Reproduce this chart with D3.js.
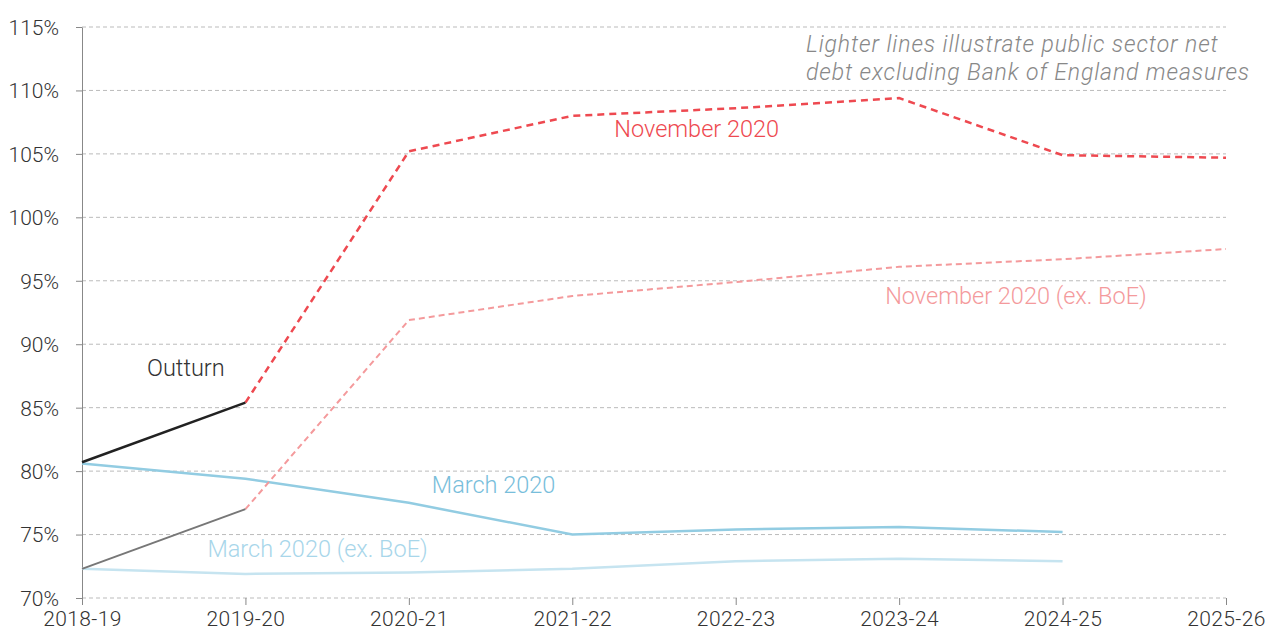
<!DOCTYPE html>
<html lang="en">
<head>
<meta charset="UTF-8">
<title>Public sector net debt</title>
<script src="https://d3js.org/d3.v7.min.js"></script>
<style>
  body { margin: 0; background: #fff; }
  text { font-family: Roboto, "Noto Sans", sans-serif; font-weight: 300; }
</style>
</head>
<body>
<div class="canvas"></div>
<script>
  const years = ['2018-19', '2019-20', '2020-21', '2021-22', '2022-23', '2023-24', '2024-25', '2025-26']
  const yTicks = [70, 75, 80, 85, 90, 95, 100, 105, 110, 115]

  // % of GDP
  const outturn = [80.7, 85.4]
  const outturnExBoe = [72.3, 77.0]
  const nov2020 = [null, 85.4, 105.2, 108.0, 108.6, 109.4, 104.9, 104.7]
  const nov2020ExBoe = [null, 77.0, 91.9, 93.8, 94.9, 96.1, 96.7, 97.5]
  const mar2020 = [80.6, 79.4, 77.5, 75.0, 75.4, 75.6, 75.2]
  const mar2020ExBoe = [72.3, 71.9, 72.0, 72.3, 72.9, 73.1, 72.9]

  const width = 1278, height = 636
  const margin = {top: 27, right: 52, bottom: 38, left: 82}

  const svg = d3.select('.canvas')
    .append('svg')
    .attr('width', width)
    .attr('height', height)

  const x = d3.scalePoint().domain(years).range([margin.left, width - margin.right])
  const y = d3.scaleLinear().domain([70, 115]).range([height - margin.bottom, margin.top])

  // gridlines
  svg.append('g')
    .selectAll('line')
    .data(yTicks)
    .enter()
    .append('line')
    .attr('x1', margin.left)
    .attr('x2', width - margin.right)
    .attr('y1', d => y(d))
    .attr('y2', d => y(d))
    .attr('stroke', '#bbb')
    .attr('stroke-width', 1)
    .attr('stroke-dasharray', '4,3')

  // y axis
  const yAxis = svg.append('g')
    .attr('transform', `translate(${margin.left},0)`)
    .call(d3.axisLeft(y).tickValues(yTicks).tickFormat(d => d + '%').tickSize(6).tickSizeOuter(0))
  yAxis.select('.domain').attr('stroke', '#888')
  yAxis.selectAll('.tick line').attr('stroke', '#888')
  yAxis.selectAll('text')
    .attr('fill', '#333')
    .style('font-size', '21px')
    .attr('x', -23)
    .attr('dy', '0.35em')

  // x axis
  const xAxis = svg.append('g')
    .attr('transform', `translate(0,${height - margin.bottom})`)
    .call(d3.axisBottom(x).tickSize(7).tickSizeOuter(0))
  xAxis.select('.domain').remove()
  xAxis.selectAll('.tick line').attr('stroke', '#888')
  xAxis.selectAll('text')
    .attr('fill', '#333')
    .style('font-size', '21px')
    .style('letter-spacing', '0.4px')
    .attr('y', 13)
    .attr('dy', '0.71em')

  const line = d3.line()
    .defined(d => d != null)
    .x((d, i) => x(years[i]))
    .y(d => y(d))

  const series = [
    {vals: mar2020ExBoe, color: '#c6e4f0', dash: null, w: 2.5},
    {vals: mar2020, color: '#92cce2', dash: null, w: 2.5},
    {vals: nov2020ExBoe, color: '#f49a9c', dash: '6,4', w: 2},
    {vals: outturnExBoe, color: '#777', dash: null, w: 2},
    {vals: nov2020, color: '#ee4950', dash: '7,5', w: 2.5},
    {vals: outturn, color: '#222', dash: null, w: 2.5}
  ]

  svg.append('g')
    .selectAll('path')
    .data(series)
    .enter()
    .append('path')
    .attr('fill', 'none')
    .attr('stroke', d => d.color)
    .attr('stroke-width', d => d.w)
    .attr('stroke-dasharray', d => d.dash)
    .attr('d', d => line(d.vals))

  // labels
  const labels = [
    {text: 'November 2020', color: '#ee4950', x: '2021-22', dx: 42, v: 106.3},
    {text: 'November 2020 (ex. BoE)', color: '#f49a9c', x: '2023-24', dx: -14, v: 93.2},
    {text: 'Outturn', color: '#333', x: '2018-19', dx: 65, v: 87.5},
    {text: 'March 2020', color: '#78bedb', x: '2020-21', dx: 23, v: 78.3},
    {text: 'March 2020 (ex. BoE)', color: '#a8d6ea', x: '2019-20', dx: -38, v: 73.2}
  ]
  svg.append('g')
    .selectAll('text')
    .data(labels)
    .enter()
    .append('text')
    .attr('x', d => x(d.x) + d.dx)
    .attr('y', d => y(d.v))
    .attr('fill', d => d.color)
    .style('font-size', '23.5px')
    .text(d => d.text)

  const note = svg.append('text')
    .attr('fill', '#888')
    .style('font-size', '23px')
    .style('font-style', 'italic')
    .style('letter-spacing', '0.9px')
  note.append('tspan').attr('x', 806).attr('y', 52).text('Lighter lines illustrate public sector net')
  note.append('tspan').attr('x', 806).attr('y', 80).text('debt excluding Bank of England measures')
</script>
</body>
</html>
